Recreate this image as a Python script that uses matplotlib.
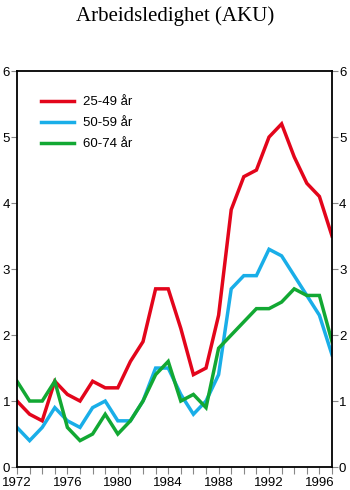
import matplotlib
matplotlib.use('Agg')
import matplotlib.pyplot as plt
from matplotlib.ticker import MultipleLocator

years = list(range(1972, 1998))
age_25_49 = [1.0, 0.8, 0.7, 1.3, 1.1, 1.0, 1.3, 1.2, 1.2, 1.6, 1.9, 2.7, 2.7,
             2.1, 1.4, 1.5, 2.3, 3.9, 4.4, 4.5, 5.0, 5.2, 4.7, 4.3, 4.1, 3.5]
age_50_59 = [0.6, 0.4, 0.6, 0.9, 0.7, 0.6, 0.9, 1.0, 0.7, 0.7, 1.0, 1.5, 1.5,
             1.1, 0.8, 1.0, 1.4, 2.7, 2.9, 2.9, 3.3, 3.2, 2.9, 2.6, 2.3, 1.7]
age_60_74 = [1.3, 1.0, 1.0, 1.3, 0.6, 0.4, 0.5, 0.8, 0.5, 0.7, 1.0, 1.4, 1.6,
             1.0, 1.1, 0.9, 1.8, 2.0, 2.2, 2.4, 2.4, 2.5, 2.7, 2.6, 2.6, 1.9]
labels = ['25-49 år', '50-59 år', '60-74 år']
colors = ['#e3051b', '#19aee8', '#12a833']

plt.rcParams['font.family'] = ['Liberation Sans', 'DejaVu Sans']
fig = plt.figure(figsize=(3.5, 4.9), dpi=100)
ax = fig.add_axes([0.0486, 0.0469, 0.9, 0.808])

for series, label, color in zip([age_25_49, age_50_59, age_60_74], labels, colors):
    ax.plot(years, series, color=color, lw=2.5, label=label, solid_joinstyle='miter')

ax.set_xlim(1972, 1997)
ax.set_ylim(0, 6)
ax.xaxis.set_major_locator(MultipleLocator(4))
ax.xaxis.set_minor_locator(MultipleLocator(1))
ax.yaxis.set_major_locator(MultipleLocator(1))

for side in ['left', 'right', 'top', 'bottom']:
    ax.spines[side].set_linewidth(1.3)

ax.tick_params(axis='both', which='both', direction='out', color='#888888',
               labelsize=9.5, width=0.8)
ax.tick_params(axis='x', which='major', length=5, pad=2, top=False)
ax.tick_params(axis='x', which='minor', length=5, top=False)
ax.tick_params(axis='y', which='major', length=4, pad=1, left=True, right=True,
               labelleft=True, labelright=True)

ax.legend(loc='upper left', bbox_to_anchor=(0.076, 0.937), frameon=False,
          fontsize=9.5, handlelength=2.5, handletextpad=0.68, labelspacing=0.67,
          borderpad=0, borderaxespad=0)

fig.text(0.5, 0.988, 'Arbeidsledighet (AKU)', ha='center', va='top',
         family='Liberation Serif', fontsize=15)

fig.savefig('out.png', dpi=100)
